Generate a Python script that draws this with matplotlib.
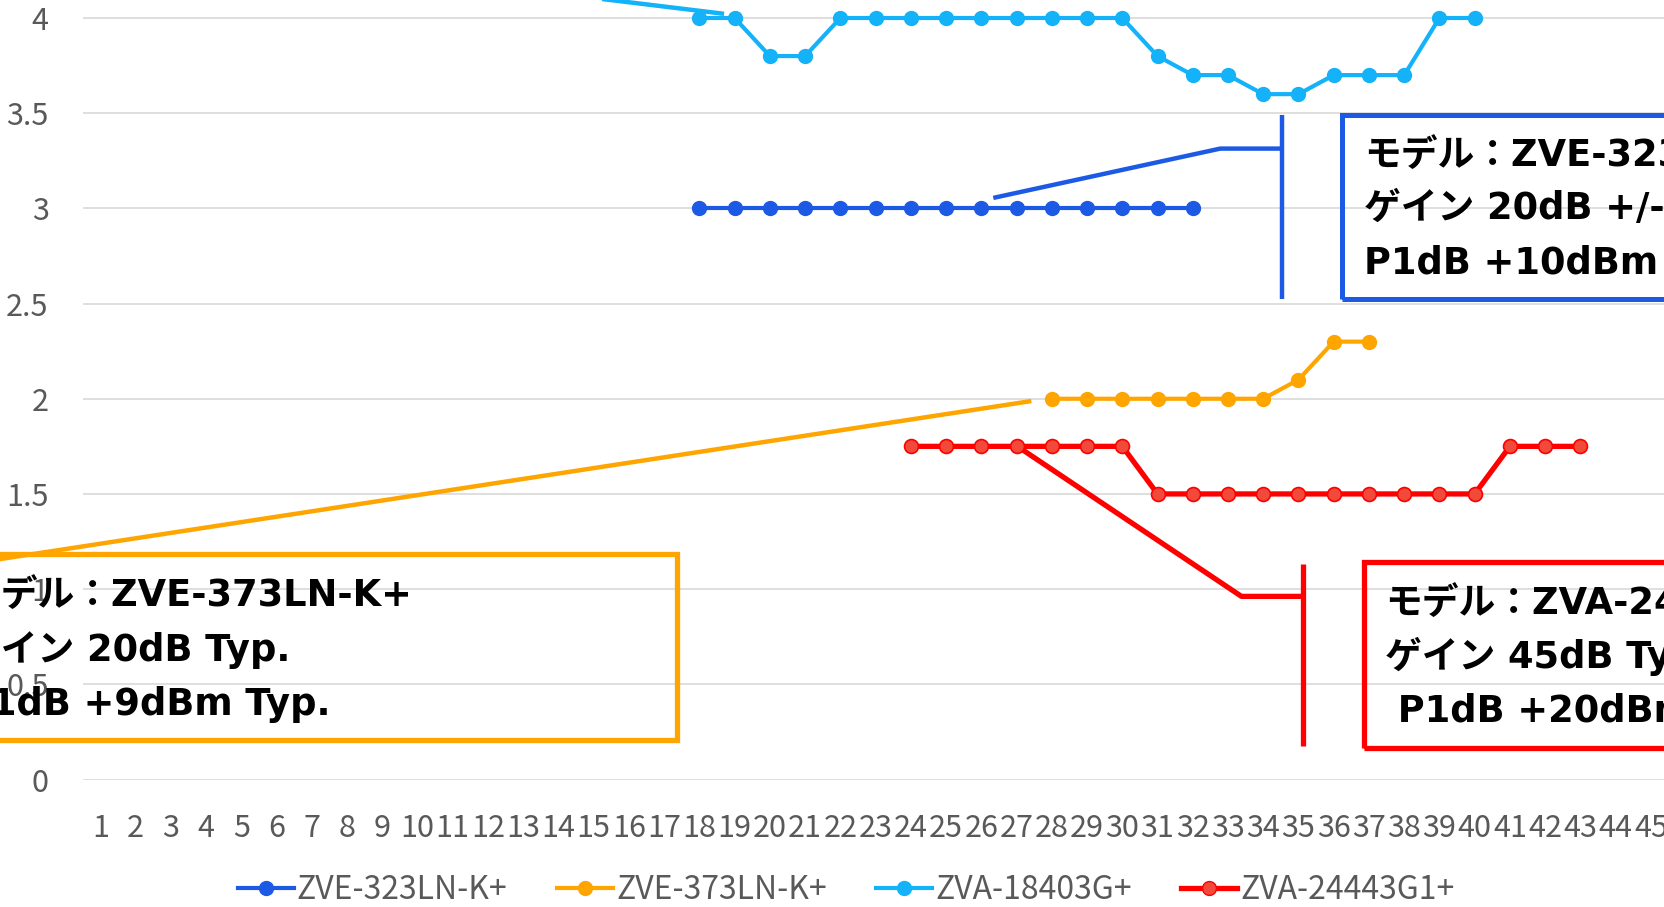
import numpy as np
import pandas as pd
import matplotlib
matplotlib.use("Agg")
import matplotlib.pyplot as plt
from matplotlib.lines import Line2D
from matplotlib.patches import Rectangle

# ---- data ----
categories = list(range(1, 46))

zve323_x = list(range(18, 33))
zve323_y = [3.0, 3.0, 3.0, 3.0, 3.0, 3.0, 3.0, 3.0, 3.0, 3.0, 3.0, 3.0, 3.0, 3.0, 3.0]

zve373_x = list(range(28, 38))
zve373_y = [2.0, 2.0, 2.0, 2.0, 2.0, 2.0, 2.0, 2.1, 2.3, 2.3]

zva18403_x = list(range(18, 41))
zva18403_y = [4.0, 4.0, 3.8, 3.8, 4.0, 4.0, 4.0, 4.0, 4.0, 4.0, 4.0, 4.0, 4.0,
              3.8, 3.7, 3.7, 3.6, 3.6, 3.7, 3.7, 3.7, 4.0, 4.0]

zva24443_x = list(range(24, 44))
zva24443_y = [1.75, 1.75, 1.75, 1.75, 1.75, 1.75, 1.75,
              1.5, 1.5, 1.5, 1.5, 1.5, 1.5, 1.5, 1.5, 1.5, 1.5,
              1.75, 1.75, 1.75]

series_names = ["ZVE-323LN-K+", "ZVE-373LN-K+", "ZVA-18403G+", "ZVA-24443G1+"]
yticks = [0, 0.5, 1, 1.5, 2, 2.5, 3, 3.5, 4]
ytick_labels = ["0", "0.5", "1", "1.5", "2", "2.5", "3", "3.5", "4"]

box_323 = ["モデル：ZVE-323LN-K+", "ゲイン 20dB +/-1dB", "P1dB +10dBm Typ."]
box_373 = ["モデル：ZVE-373LN-K+", "ゲイン 20dB Typ.", "P1dB +9dBm Typ."]
box_24443 = ["モデル：ZVA-24443G1+", "ゲイン 45dB Typ.", " P1dB +20dBm Typ."]

BLUE = "#1C5AE6"
ORANGE = "#FFA500"
CYAN = "#14B2F8"
RED = "#FF0000"
GRAY = "#595959"

tick_font = ["Noto Sans CJK JP", "DejaVu Sans"]
box_font = ["DejaVu Sans", "Noto Sans CJK JP"]

W, H = 1664, 907
fig = plt.figure(figsize=(W / 100, H / 100), dpi=100)

# plot area: x=0.5 at 82.7px, 35.24px per category; y=0 at 779.5px, 190.4px per unit
x0px, dx = 82.7, 35.24
y0px, dy = 779.5, 190.375
ymax = 4.5
ax = fig.add_axes([x0px / W, 1 - y0px / H, 45 * dx / W, ymax * dy / H])
ax.set_xlim(0.5, 45.5)
ax.set_ylim(0, ymax)

for s in ax.spines.values():
    s.set_visible(False)
ax.set_yticks(yticks)
ax.set_yticklabels(ytick_labels)
ax.set_xticks(categories)
ax.set_xticklabels([str(c) for c in categories])
ax.yaxis.grid(True, color="#D9D9D9", lw=1.2)
ax.set_axisbelow(True)
ax.tick_params(axis="both", length=0, colors=GRAY, labelsize=22)
ax.tick_params(axis="y", pad=24.5)
ax.tick_params(axis="x", pad=24)
for lab in ax.get_xticklabels() + ax.get_yticklabels():
    lab.set_family(tick_font)

MS = 10
ax.plot(zve323_x, zve323_y, color=BLUE, lw=3.0, marker="o", ms=MS, mfc=BLUE, mec=BLUE,
        label=series_names[0], clip_on=False, zorder=3)
ax.plot(zve373_x, zve373_y, color=ORANGE, lw=3.0, marker="o", ms=MS, mfc=ORANGE, mec=ORANGE,
        label=series_names[1], clip_on=False, zorder=3)
ax.plot(zva18403_x, zva18403_y, color=CYAN, lw=3.0, marker="o", ms=MS, mfc=CYAN, mec=CYAN,
        label=series_names[2], clip_on=False, zorder=3)
ax.plot(zva24443_x, zva24443_y, color=RED, lw=3.8, marker="o", ms=MS, mfc="#F24A3A", mec=RED,
        mew=1.2, label=series_names[3], clip_on=False, zorder=3)

# ---- callouts (data coordinates) ----
def leader(xs, ys, color, lw=3.2):
    ax.plot(xs, ys, color=color, lw=lw, clip_on=False, zorder=2, solid_capstyle="butt")

def box(x1, y1, x2, y2, color, lw=3.6):
    ax.add_patch(Rectangle((x1, y1), x2 - x1, y2 - y1, fill=False, ec=color, lw=lw,
                           clip_on=False, zorder=2))

def box_text(x, ys, lines):
    for yy, t in zip(ys, lines):
        ax.text(x, yy - 0.018, t, family=box_font, fontsize=26.5, fontweight="bold",
                color="black", va="center", ha="left", clip_on=False, zorder=4)

# ZVE-323LN-K+
leader([26.34, 32.78, 34.53], [3.055, 3.314, 3.314], BLUE)
leader([34.53, 34.53], [2.524, 3.49], BLUE)
box(36.23, 2.524, 50, 3.493, BLUE)
box_text(36.86, [3.296, 3.018, 2.729], box_323)

# ZVE-373LN-K+
leader([27.42, -3.6], [1.988, 1.108], ORANGE)
box(-3.6, 0.2075, 17.37, 1.185, ORANGE, lw=3.8)
box_text(-2.86, [0.985, 0.701, 0.412], box_373)

# ZVA-24443G1+
leader([27.0, 33.38, 35.13], [1.753, 0.962, 0.962], RED, lw=3.8)
leader([35.13, 35.13], [0.176, 1.1346], RED, lw=3.8)
box(36.86, 0.1655, 50, 1.1425, RED, lw=3.8)
box_text(37.46, [0.94, 0.667, 0.377], box_24443)

# ZVA-18403G+ (callout itself is above the visible area)
leader([18.70, 6.68], [4.022, 4.292], CYAN)

# ---- legend ----
handles = [
    Line2D([], [], color=BLUE, lw=3.0, marker="o", ms=MS, mfc=BLUE, mec=BLUE),
    Line2D([], [], color=ORANGE, lw=3.0, marker="o", ms=MS, mfc=ORANGE, mec=ORANGE),
    Line2D([], [], color=CYAN, lw=3.0, marker="o", ms=MS, mfc=CYAN, mec=CYAN),
    Line2D([], [], color=RED, lw=3.8, marker="o", ms=MS, mfc="#F24A3A", mec=RED),
]
leg = fig.legend(handles, series_names, loc="center", bbox_to_anchor=(0.5085, 0.0184),
                 ncol=4, frameon=False, handlelength=1.75, handletextpad=0.1,
                 columnspacing=1.55, prop={"family": tick_font, "size": 23})
for t in leg.get_texts():
    t.set_color(GRAY)

fig.savefig("out.png", dpi=100)
